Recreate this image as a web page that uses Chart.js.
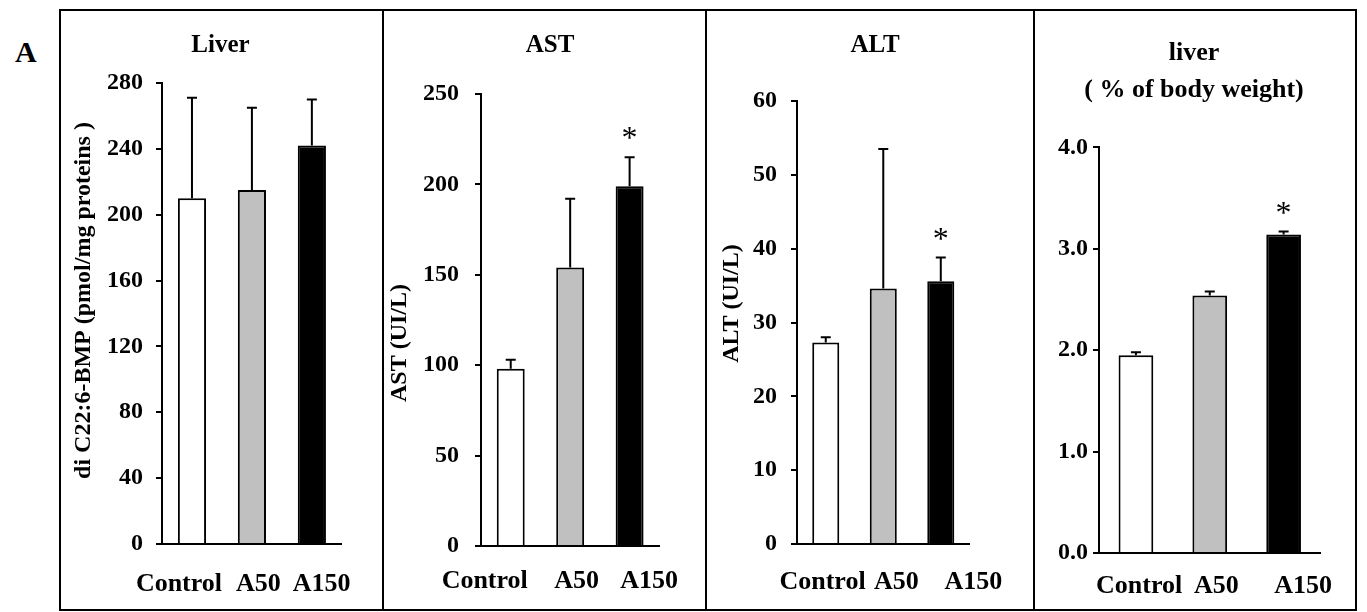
<!DOCTYPE html>
<html>
<head>
<meta charset="utf-8">
<title>Liver BMP, AST, ALT, liver weight</title>
<script src="https://cdn.jsdelivr.net/npm/chart.js@4.4.1/dist/chart.umd.min.js"></script>
<style>
  body { margin: 0; background: #fff; }
  #figure { position: relative; width: 1367px; height: 612px; font-family: 'Liberation Serif', 'Times New Roman', serif; }
  .panel { position: absolute; top: 9px; }
  .frame { position: absolute; top: 9px; height: 602px; border: 2px solid #000; box-sizing: border-box; }
  #letter { position: absolute; left: 15px; top: 37px; font-size: 30px; font-weight: bold; line-height: 30px; }
</style>
</head>
<body>
<div id="figure">
  <div id="letter">A</div>
</div>
<script>
// groups on the x axis
var groups = ['Control', 'A50', 'A150']

// di C22:6-BMP in liver (pmol/mg proteins): mean and SD
var bmpMean = [210, 215, 242]
var bmpSd = [61, 50, 28]
var bmpStars = ['', '', '']

// AST (UI/L)
var astMean = [98, 154, 199]
var astSd = [5, 38, 16]
var astStars = ['', '', '*']

// ALT (UI/L)
var altMean = [27.3, 34.6, 35.6]
var altSd = [0.7, 18.9, 3.2]
var altStars = ['', '', '*']

// liver weight (% of body weight)
var weightMean = [1.95, 2.54, 3.14]
var weightSd = [0.03, 0.04, 0.03]
var weightStars = ['', '', '*']

// y axis ranges: min, max, step
var bmpAxis = [0, 280, 40]
var astAxis = [0, 250, 50]
var altAxis = [0, 60, 10]
var weightAxis = [0, 4, 1]

var serif = "'Liberation Serif', 'Times New Roman', serif"
var barColors = ['#ffffff', '#c0c0c0', '#000000']

// panel frame edges (page x)
var edges = [59, 382, 705, 1033, 1355]

var panels = [
  {
    title: 'Liver', titleSize: 25, titleLine: 1.2, titlePad: { top: 22, bottom: 22 },
    yTitle: 'di C22:6-BMP (pmol/mg proteins )', yTitleDx: 78, yTitleDy: -13,
    mean: bmpMean, sd: bmpSd, stars: bmpStars, axis: bmpAxis, decimals: 0,
    padL: 0, axisW: 103, rightW: 39, xAxisH: 65, xTickPad: 25, yTickPad: 13,
    shift: [-4, 2, 3]
  },
  {
    title: 'AST', titleSize: 25, titleLine: 1.2, titlePad: { top: 22, bottom: 33 },
    yTitle: 'AST (UI/L)', yTitleDx: 81, yTitleDy: 23,
    mean: astMean, sd: astSd, stars: astStars, axis: astAxis, decimals: 0,
    padL: 13, axisW: 86, rightW: 42, xAxisH: 63, xTickPad: 20, yTickPad: 16,
    shift: [-8, 2, 6]
  },
  {
    title: 'ALT', titleSize: 25, titleLine: 1.2, titlePad: { top: 22, bottom: 40 },
    yTitle: 'ALT (UI/L)', yTitleDx: 65, yTitleDy: -19,
    mean: altMean, sd: altSd, stars: altStars, axis: altAxis, decimals: 0,
    padL: 12, axisW: 80, rightW: 47, xAxisH: 65, xTickPad: 23, yTickPad: 14,
    shift: [-1, 4, 10]
  },
  {
    title: ['liver', '( % of body weight)'], titleSize: 26, titleLine: 1.45, titlePad: { top: 25, bottom: 38 },
    yTitle: '', yTitleDx: 0, yTitleDy: 0,
    mean: weightMean, sd: weightSd, stars: weightStars, axis: weightAxis, decimals: 1,
    padL: 0, axisW: 66, rightW: 30, xAxisH: 56, xTickPad: 18, yTickPad: 5,
    shift: [1, 2, 6]
  }
]

// error bars (upper half only), significance stars and the rotated y title
function makeExtras(p) {
  return {
    id: 'extras',
    afterDatasetsDraw: function (chart) {
      var ctx = chart.ctx
      var yScale = chart.scales.y
      var bars = chart.getDatasetMeta(0).data
      ctx.save()
      ctx.strokeStyle = '#000'
      ctx.fillStyle = '#000'
      ctx.lineWidth = 2
      bars.forEach(function (bar, i) {
        var top = yScale.getPixelForValue(p.mean[i] + p.sd[i])
        ctx.beginPath()
        ctx.moveTo(bar.x, bar.y)
        ctx.lineTo(bar.x, top)
        ctx.moveTo(bar.x - 5, top)
        ctx.lineTo(bar.x + 5, top)
        ctx.stroke()
        if (p.stars[i]) {
          ctx.font = '32px ' + serif
          ctx.textAlign = 'center'
          ctx.textBaseline = 'alphabetic'
          ctx.fillText(p.stars[i], bar.x, top - 9)
        }
      })
      if (p.yTitle) {
        var area = chart.chartArea
        ctx.translate(area.left - p.yTitleDx, (area.top + area.bottom) / 2 + p.yTitleDy)
        ctx.rotate(-Math.PI / 2)
        ctx.font = 'bold 24px ' + serif
        ctx.textAlign = 'center'
        ctx.textBaseline = 'middle'
        ctx.fillText(p.yTitle, 0, 0)
      }
      ctx.restore()
    }
  }
}

var figure = document.getElementById('figure')

panels.forEach(function (p, k) {
  var left = edges[k]
  var width = edges[k + 1] - edges[k]

  var canvas = document.createElement('canvas')
  canvas.className = 'panel'
  canvas.style.left = left + 'px'
  canvas.width = width
  canvas.height = 600
  figure.appendChild(canvas)

  var frame = document.createElement('div')
  frame.className = 'frame'
  frame.style.left = left + 'px'
  frame.style.width = (width + 2) + 'px'
  figure.appendChild(frame)

  new Chart(canvas.getContext('2d'), {
    type: 'bar',
    data: {
      labels: groups,
      datasets: [{
        data: p.mean,
        backgroundColor: barColors,
        borderColor: '#000',
        borderWidth: 2,
        borderSkipped: 'start',
        categoryPercentage: 1,
        barPercentage: 0.47
      }]
    },
    options: {
      responsive: false,
      animation: false,
      devicePixelRatio: 1,
      layout: { padding: { left: p.padL, right: 0, top: 0, bottom: 0 } },
      plugins: {
        legend: { display: false },
        tooltip: { enabled: false },
        title: {
          display: true,
          text: p.title,
          color: '#000',
          font: { family: serif, size: p.titleSize, weight: 'bold', lineHeight: p.titleLine },
          padding: p.titlePad
        }
      },
      scales: {
        x: {
          grid: { display: false, drawTicks: false },
          border: { color: '#000', width: 2 },
          ticks: {
            color: '#000',
            padding: p.xTickPad,
            maxRotation: 0,
            autoSkip: false,
            font: { family: serif, size: 26, weight: 'bold' },
            // pad with spaces to sit the names where the original typed them
            callback: function (value, i) {
              var n = p.shift[i]
              var pad = ' '.repeat(Math.abs(n))
              return n < 0 ? groups[i] + pad : pad + groups[i]
            }
          },
          afterFit: function (scale) { scale.height = p.xAxisH }
        },
        y: {
          min: p.axis[0],
          max: p.axis[1],
          grid: { display: true, drawOnChartArea: false, drawTicks: true, tickLength: 6, color: '#000', lineWidth: 2 },
          border: { color: '#000', width: 2 },
          ticks: {
            stepSize: p.axis[2],
            color: '#000',
            padding: p.yTickPad,
            font: { family: serif, size: 24, weight: 'bold' },
            callback: function (value) { return value.toFixed(p.decimals) }
          },
          afterFit: function (scale) { scale.width = p.axisW }
        },
        // empty right-hand axis, only keeps the blank space right of the bars
        spacer: {
          type: 'linear',
          position: 'right',
          grid: { display: false },
          border: { display: false },
          ticks: { display: false },
          afterFit: function (scale) { scale.width = p.rightW }
        }
      }
    },
    plugins: [makeExtras(p)]
  })
})
</script>
</body>
</html>
